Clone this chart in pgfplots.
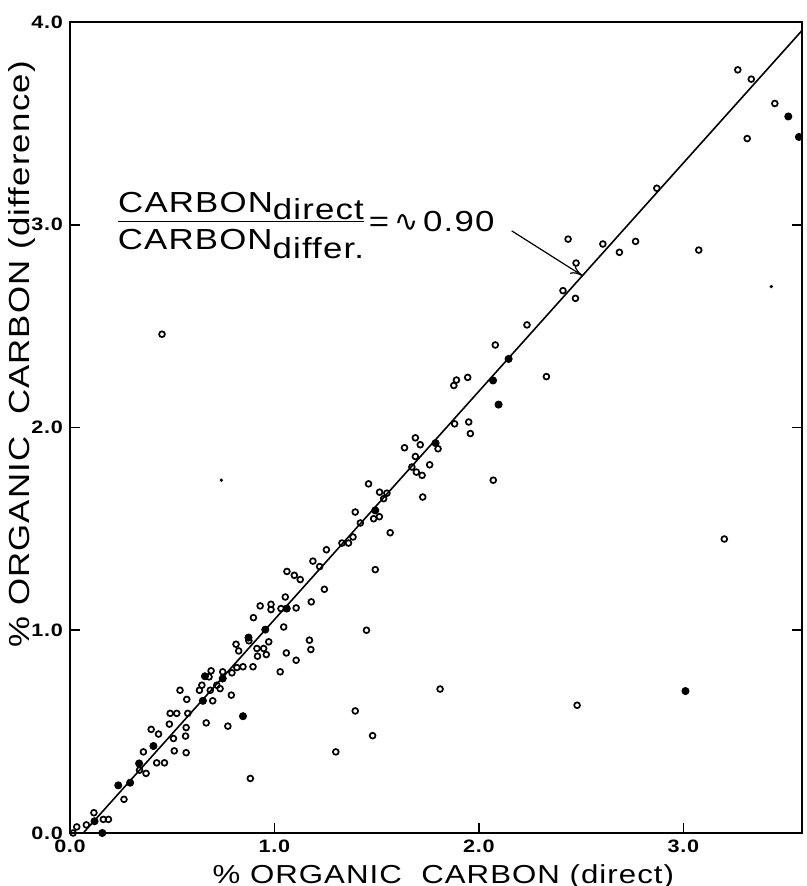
\documentclass[border=0pt]{standalone}
\usepackage{pgfplots}
\pgfplotsset{compat=1.18}
\usepackage{fontspec}
\setmainfont{Liberation Sans}[FakeStretch=1.2,LetterSpace=4]
\newfontfamily\djv{DejaVu Sans}
\usetikzlibrary{arrows.meta}

\begin{document}
\begin{tikzpicture}
\path[use as bounding box] (-35pt,-26.5pt) rectangle (368pt,416.5pt);
\begin{axis}[
  at={(0,0)}, anchor=south west,
  scale only axis, width=366pt, height=405.5pt,
  xmin=0, xmax=3.58, ymin=0, ymax=4,
  xtick={0,1,2,3}, ytick={0,1,2,3,4},
  xtick pos=left,
  major tick length=5pt,
  tick style={line width=0.9pt, black},
  axis line style={line width=1pt},
  ticklabel style={font=\bfseries\fontsize{9}{10}\selectfont},
  /pgf/number format/.cd, fixed, fixed zerofill, precision=1, assume math mode=true,
  /pgfplots/.cd,
  xlabel={\% ORGANIC\ \ CARBON (direct)},
  ylabel={\% ORGANIC\ \ CARBON (difference)},
  xlabel style={font=\fontsize{13}{15}\selectfont, at={(axis description cs:0.51,-0.054)}, anchor=center},
  ylabel style={font=\fontsize{14.5}{16}\selectfont, at={(axis description cs:-0.066,0.59)}, anchor=center},
  clip=false,
]
% open circles
\addplot[only marks, mark=o, mark size=1.45pt, mark options={line width=0.85pt, black}] coordinates {
(0.015,0.0) (0.033,0.03) (0.08,0.04) (0.117,0.10) (0.163,0.067) (0.188,0.067)
(0.264,0.166) (0.34,0.31) (0.372,0.294) (0.359,0.40) (0.397,0.511) (0.433,0.488)
(0.424,0.346) (0.462,0.346) (0.486,0.537) (0.49,0.59) (0.522,0.59) (0.506,0.466)
(0.51,0.405) (0.538,0.704) (0.571,0.659) (0.576,0.59) (0.568,0.52) (0.565,0.478)
(0.568,0.396) (0.633,0.704) (0.666,0.543) (0.645,0.729) (0.68,0.77) (0.69,0.80)
(0.686,0.704) (0.698,0.652) (0.718,0.729) (0.734,0.712) (0.747,0.795) (0.789,0.68)
(0.772,0.527) (0.792,0.79) (0.816,0.816) (0.846,0.82) (0.895,0.82) (0.882,0.269)
(1.028,0.795) (0.812,0.931) (0.825,0.898) (0.875,0.948) (0.914,0.91) (0.917,0.872)
(0.947,0.91) (0.96,0.88) (0.972,0.943) (0.897,1.062) (0.93,1.12) (0.983,1.128)
(0.983,1.102) (1.032,1.107) (1.106,1.11) (1.053,1.164) (1.045,1.016) (1.058,0.888)
(1.106,0.852) (1.171,0.951) (1.178,0.905) (1.18,1.14) (1.061,1.29) (1.097,1.271)
(1.126,1.25) (1.188,1.341) (1.221,1.314) (1.244,1.202) (1.254,1.397) (1.33,1.43)
(1.362,1.43) (1.395,0.602) (1.384,1.46) (1.395,1.583) (1.42,1.529) (1.485,1.55)
(1.513,1.56) (1.46,1.722) (1.514,1.681) (1.55,1.676) (1.534,1.649) (1.566,1.481)
(1.493,1.299) (1.636,1.90) (1.689,1.949) (1.713,1.915) (1.689,1.857) (1.672,1.805)
(1.694,1.78) (1.722,1.764) (1.759,1.816) (1.725,1.657) (1.80,1.895) (1.881,2.018)
(1.95,2.027) (1.958,1.97) (2.33,2.251) (1.877,2.207) (1.89,2.234) (1.945,2.247)
(2.08,2.407) (2.235,2.506) (2.411,2.675) (2.472,2.637) (2.475,2.811) (2.436,2.929)
(2.606,2.905) (2.687,2.864) (2.766,2.918) (2.87,3.18) (3.266,3.764) (3.332,3.718)
(3.447,3.598) (3.312,3.425) (3.075,2.875) (0.45,2.46) (2.07,1.74) (2.48,0.63)
(3.2,1.45) (1.81,0.71) (1.45,1.00) (1.48,0.48) (1.30,0.40)
};
% filled circles
\addplot[only marks, mark=*, mark size=1.8pt, mark options={black}] coordinates {
(0.12,0.058) (0.158,0.0) (0.236,0.235) (0.294,0.248) (0.338,0.343) (0.408,0.429)
(0.65,0.652) (0.66,0.773) (0.747,0.762) (0.846,0.576) (0.873,0.964) (0.955,1.003)
(1.06,1.107) (1.493,1.591) (1.788,1.923) (2.096,2.113) (2.069,2.232) (2.145,2.338)
(3.513,3.534) (3.565,3.433) (3.01,0.70)
};
% stray specks
\addplot[only marks, mark=*, mark size=0.6pt, mark options={black}] coordinates {
(0.74,1.74) (3.43,2.695)
};
% fitted line
\addplot[black, line width=0.8pt] coordinates {(0.065,0) (3.58,3.958)};
\node[anchor=west] at (axis cs:0.2,3.0) {%
  \fontsize{14.5}{16}\selectfont
  \begin{tabular}{@{}c@{}}
  CARBON\raisebox{-0.45ex}{direct}\\[-1pt]\hline
  \rule{0pt}{14pt}CARBON\raisebox{-0.6ex}{differ.}
  \end{tabular}\,=\,{\djv ∿}\,0.90};
\draw[-{To[length=6pt,width=5pt]}, line width=0.6pt] (axis cs:2.16,2.97) -- (axis cs:2.506,2.749);
\end{axis}
\end{tikzpicture}
\end{document}
